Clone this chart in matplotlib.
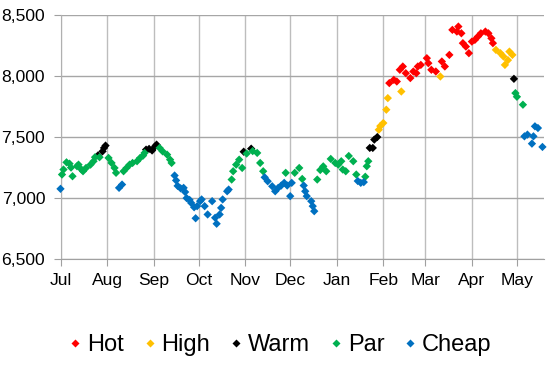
import matplotlib.pyplot as plt
import matplotlib.dates as mdates
from matplotlib.lines import Line2D
from matplotlib.ticker import FuncFormatter, MultipleLocator
import numpy as np

plt.rcParams["font.family"] = ["Liberation Sans", "DejaVu Sans"]

# ---------------------------- Data --------------------------------
# day offsets counted from 1 Jul
start = np.datetime64("2018-07-01")

hot_days = [219, 222, 224, 226, 228, 230, 233, 235, 237, 238,
            240, 244, 245, 247, 250, 254, 256, 259, 261, 264,
            265, 267, 268, 270, 272, 274, 276, 278, 280, 283,
            285, 287, 288]
hot_vals = [7942, 7969, 7955, 8051, 8078, 8023, 7983, 8037, 8023, 8078,
            8091, 8146, 8105, 8051, 8037, 8119, 8078, 8173, 8378, 8364,
            8405, 8350, 8269, 8241, 8187, 8282, 8296, 8323, 8350, 8364,
            8350, 8309, 8269]

high_days = [212, 213, 215, 217, 218, 227, 253, 290, 293, 295, 296, 298, 299, 301]
high_vals = [7560, 7590, 7615, 7724, 7819, 7873, 7996, 8214, 8187, 8160, 8091, 8130, 8200, 8173]

warm_days = [25, 28, 29, 30, 57, 59, 61, 63, 64, 122, 127, 206, 208, 209, 211, 302]
warm_vals = [7350, 7383, 7411, 7430, 7397, 7403, 7390, 7424, 7438, 7380, 7405,
             7411, 7411, 7479, 7500, 7977]

par_days = [1, 2, 4, 6, 7, 8, 11, 12, 14, 15, 17, 20, 22, 23, 26,
            32, 34, 36, 37, 42, 44, 46, 48, 51, 53, 55, 56,
            66, 68, 71, 73, 74, 114, 115, 117, 119, 121, 124, 128, 131, 133, 135,
            150, 156, 159, 161, 171, 173, 175, 177, 180, 183, 185, 187, 188, 190,
            192, 195, 197, 203, 204, 205, 303, 304, 308]
par_vals = [7193, 7234, 7293, 7282, 7250, 7179, 7261, 7274, 7234, 7220, 7247, 7274, 7302, 7335, 7335,
            7329, 7288, 7247, 7207, 7220, 7247, 7274, 7288, 7302, 7329, 7348, 7370,
            7411, 7383, 7356, 7315, 7288, 7152, 7220, 7274, 7315, 7247, 7365, 7385, 7370, 7288, 7220,
            7207, 7207, 7247, 7157, 7152, 7230, 7260, 7220, 7321, 7288, 7274, 7302, 7234, 7220,
            7345, 7302, 7193, 7175, 7261, 7302, 7860, 7830, 7765]

cheap_days = [0, 39, 41, 76, 77, 78, 80, 82, 83, 84, 86, 87, 89, 90, 91, 93, 94, 96, 98,
              101, 103, 104, 106, 107, 108, 111, 112, 136, 138, 141, 143, 145, 147, 149,
              151, 153, 154, 162, 163, 164, 167, 168, 169, 198, 200, 202,
              309, 311, 314, 315, 316, 318, 321]
cheap_vals = [7076, 7084, 7111, 7185, 7145, 7100, 7080, 7084, 7050, 7000, 6985, 6961, 6925, 6835, 6934, 6975, 6989, 6934, 6866,
              6975, 6839, 6790, 6866, 6920, 6989, 7056, 7070, 7170, 7138, 7097, 7056, 7084, 7103, 7125,
              7103, 7016, 7125, 7103, 7056, 7016, 6975, 6934, 6893, 7140, 7125, 7131,
              7506, 7520, 7446, 7506, 7588, 7574, 7419]

labels = ["Hot", "High", "Warm", "Par", "Cheap"]
colors = ["#ff0000", "#ffc000", "#000000", "#00b050", "#0070c0"]
series = [(hot_days, hot_vals), (high_days, high_vals), (warm_days, warm_vals),
          (par_days, par_vals), (cheap_days, cheap_vals)]

# --------------------------- Figure -------------------------------
fig, ax = plt.subplots(figsize=(5.5, 3.65), dpi=100)
fig.subplots_adjust(left=0.110, right=0.989, top=0.959, bottom=0.290)

for (d, v), c in zip(series, colors):
    dates = start + np.array(d).astype("timedelta64[D]")
    ax.scatter(dates, v, marker="D", s=18, color=c, edgecolors="none",
               zorder=3, clip_on=False)

ax.set_xlim(start, start + np.timedelta64(322, "D"))
ax.set_ylim(6500, 8500)
ax.yaxis.set_major_locator(MultipleLocator(500))
ax.yaxis.set_major_formatter(FuncFormatter(lambda y, p: f"{y:,.0f}"))
ax.xaxis.set_major_locator(mdates.MonthLocator())
ax.xaxis.set_major_formatter(mdates.DateFormatter("%b"))

ax.grid(axis="y", color="#a6a6a6", lw=1)
ax.grid(axis="x", color="#bdbdbd", lw=1)
ax.set_axisbelow(True)
for s in ["top", "right"]:
    ax.spines[s].set_visible(False)
ax.spines["left"].set_color("#b0b0b0")
ax.spines["bottom"].set_color("#a0a0a0")
ax.tick_params(length=5, color="#a0a0a0", labelsize=12.6, pad=5)
ax.tick_params(axis="y", pad=6)

handles = [Line2D([], [], marker="D", ls="none", ms=4, color=c, mec="none") for c in colors]
fig.legend(handles, labels, loc="center", bbox_to_anchor=(0.51, 0.055), ncol=5,
           frameon=False, fontsize=17, handlelength=0.5, handletextpad=0.25,
           columnspacing=0.85, borderaxespad=0)

fig.savefig("out.png", dpi=100)
